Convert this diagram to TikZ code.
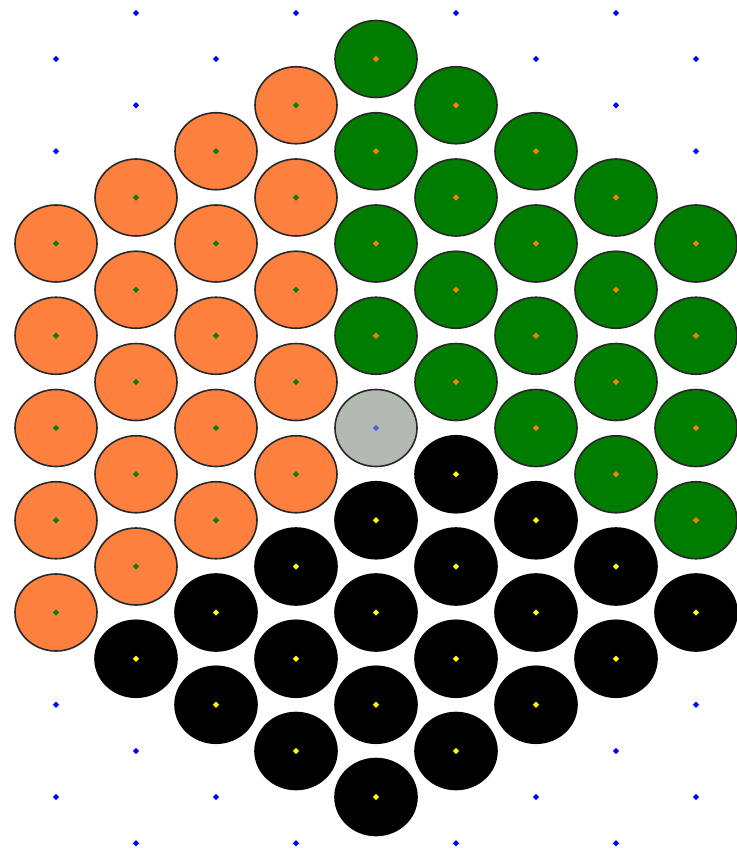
\documentclass[tikz,border=0pt]{standalone}
\definecolor{stoneorange}{RGB}{253,128,62}
\definecolor{stonegreen}{RGB}{0,124,0}
\definecolor{stonegray}{RGB}{178,186,178}
\definecolor{rimgray}{RGB}{40,40,40}
\definecolor{dotblue}{RGB}{0,0,255}
\definecolor{dotviolet}{RGB}{90,90,225}
\definecolor{dotorange}{RGB}{255,128,0}
\definecolor{dotgreen}{RGB}{0,128,0}
\definecolor{dotyellow}{RGB}{255,255,0}
% x = 56 + 80 i, y = 59 (even i) or 13 (odd i) + 92.25 j
\newcommand{\cellpos}[2]{%
  \pgfmathsetmacro{\cx}{56+80*#1}%
  \pgfmathsetmacro{\cy}{(mod(#1,2)==0 ? 59 : 13)+92.25*#2}}
\newcommand{\stone}[4]{% style, dot colour, column, row
  \cellpos{#3}{#4}%
  \filldraw[#1] (\cx,\cy) ellipse [x radius=41, y radius=38.5];
  \fill[#2] (\cx,\cy) +(0,-3.2) -- +(3.2,0) -- +(0,3.2) -- +(-3.2,0) -- cycle;}
\begin{document}
\begin{tikzpicture}[x=0.75pt, y=-0.75pt, line join=round,
  orangestone/.style={fill=stoneorange, draw=rimgray, line width=1.2},
  greenstone/.style={fill=stonegreen, draw=rimgray, line width=1.2},
  graystone/.style={fill=stonegray, draw=rimgray, line width=1.2},
  blackstone/.style={fill=black, draw=black, line width=1.2}]
\useasboundingbox (0,0) rectangle (737,856);
% empty points
\foreach \i in {0,...,8} {
  \pgfmathtruncatemacro{\last}{mod(\i,2)==0 ? 8 : 9}
  \foreach \j in {0,...,\last} {
    \cellpos{\i}{\j}
    \fill[dotblue] (\cx,\cy) +(0,-3.2) -- +(3.2,0) -- +(0,3.2) -- +(-3.2,0) -- cycle;
  }
}
% orange
\foreach \i/\a/\b in {0/2/6, 1/2/6, 2/1/5, 3/1/5}
  \foreach \j in {\a,...,\b} {\stone{orangestone}{dotgreen}{\i}{\j}}
% green
\foreach \i/\a/\b in {4/0/3, 5/1/4, 6/1/4, 7/2/5, 8/2/5}
  \foreach \j in {\a,...,\b} {\stone{greenstone}{dotorange}{\i}{\j}}
% black
\foreach \i/\a/\b in {1/7/7, 2/6/7, 3/6/8, 4/5/8, 5/5/8, 6/5/7, 7/6/7, 8/6/6}
  \foreach \j in {\a,...,\b} {\stone{blackstone}{dotyellow}{\i}{\j}}
% centre
\stone{graystone}{dotviolet}{4}{4}
\end{tikzpicture}
\end{document}
